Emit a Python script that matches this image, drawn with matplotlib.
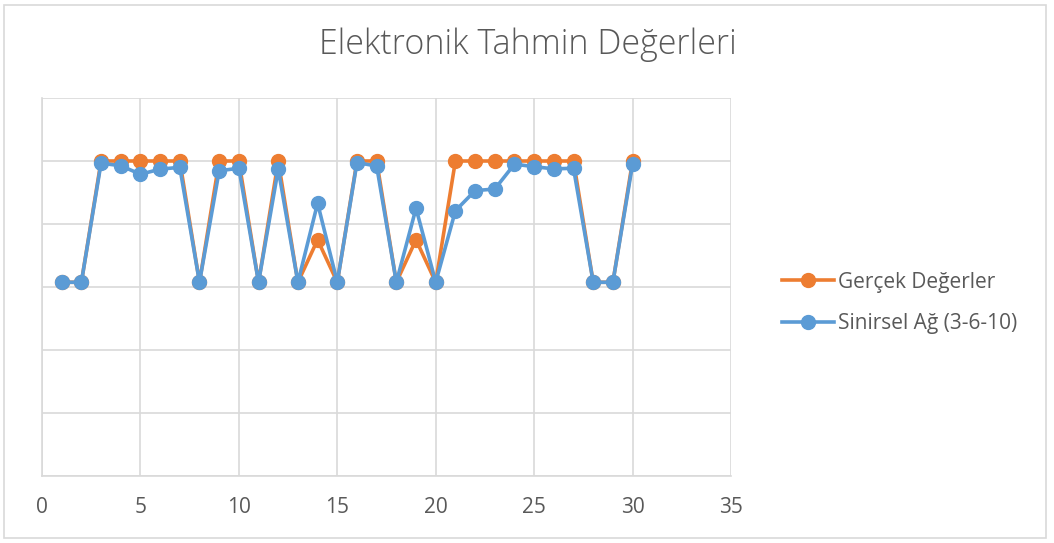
import matplotlib
matplotlib.use("Agg")
import matplotlib.pyplot as plt
from matplotlib.patches import Rectangle

# --- veri ---
x = list(range(1, 31))
gercek = [0.615, 0.615, 1.0, 1.0, 1.0, 1.0, 1.0, 0.615, 1.0, 1.0,
          0.615, 1.0, 0.615, 0.75, 0.615, 1.0, 1.0, 0.615, 0.75, 0.615,
          1.0, 1.0, 1.0, 1.0, 1.0, 1.0, 1.0, 0.615, 0.615, 1.0]
sinirsel = [0.615, 0.615, 0.993, 0.985, 0.958, 0.974, 0.980, 0.615, 0.969, 0.977,
            0.615, 0.974, 0.615, 0.866, 0.615, 0.995, 0.984, 0.615, 0.850, 0.615,
            0.842, 0.906, 0.911, 0.990, 0.982, 0.975, 0.977, 0.615, 0.615, 0.990]
x_ticks = [0, 5, 10, 15, 20, 25, 30, 35]
y_grid = [0, 0.2, 0.4, 0.6, 0.8, 1.0, 1.2]

baslik = "Elektronik Tahmin Değerleri"
etiketler = ["Gerçek Değerler", "Sinirsel Ağ (3-6-10)"]

turuncu = "#ED7D31"
mavi = "#5B9BD5"
gri = "#D9D9D9"
yazi = "#595959"

plt.rcParams["font.family"] = ["Open Sans", "DejaVu Sans"]

fig = plt.figure(figsize=(10.54, 5.43), dpi=100)
ax = fig.add_axes([42 / 1054, 67 / 543, 689 / 1054, 378 / 543])

ax.plot(x, gercek, color=turuncu, lw=2.6, marker="o", ms=10, label=etiketler[0], zorder=3)
ax.plot(x, sinirsel, color=mavi, lw=2.6, marker="o", ms=10, label=etiketler[1], zorder=4)

ax.set_xlim(0, 35)
ax.set_ylim(0, 1.2)
ax.set_xticks(x_ticks)
ax.set_yticks(y_grid)
ax.set_yticklabels([])
ax.tick_params(axis="y", length=0)
ax.tick_params(axis="x", length=0, pad=15, labelsize=15, labelcolor=yazi)
ax.grid(True, color=gri, lw=1.2, zorder=0)
ax.set_axisbelow(True)
for s in ["top", "right"]:
    ax.spines[s].set_visible(False)
for s in ["left", "bottom"]:
    ax.spines[s].set_color(gri)
    ax.spines[s].set_linewidth(1.2)

fig.text(528 / 1054, 1 - 45 / 543, baslik, ha="center", va="center",
         fontsize=24.5, color=yazi, fontweight="light")

fig.legend(loc="center left", bbox_to_anchor=(763 / 1054, 1 - 303 / 543),
           frameon=False, fontsize=15, labelcolor=yazi, handlelength=2.5,
           handletextpad=0.2, labelspacing=1.0)

fig.patches.append(Rectangle((4 / 1054, 5 / 543), 1042 / 1054, 533 / 543,
                             transform=fig.transFigure, fill=False,
                             edgecolor=gri, lw=1.2))

fig.savefig("out.png", dpi=100)
